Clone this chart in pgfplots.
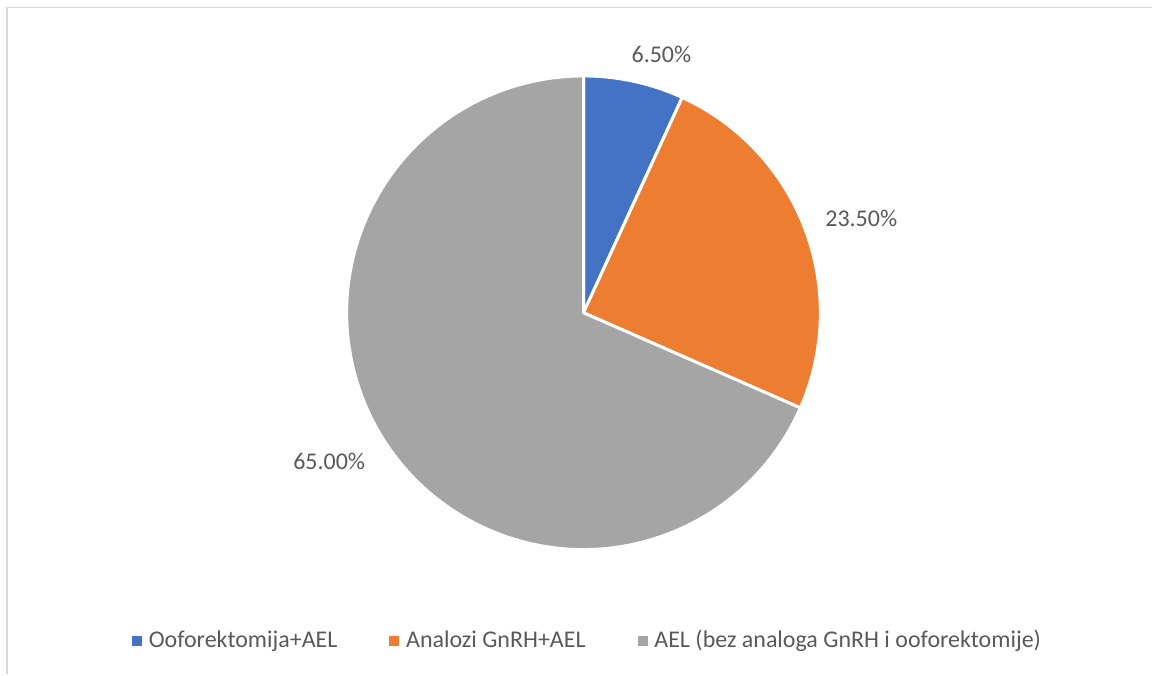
\documentclass[border=0pt]{standalone}
\usepackage{pgfplots}
\pgfplotsset{compat=1.18}
\usepackage{fontspec}
\setmainfont{Carlito}
\definecolor{c1}{HTML}{4472C4}
\definecolor{c2}{HTML}{ED7D31}
\definecolor{c3}{HTML}{A5A5A5}
\definecolor{txt}{HTML}{595959}
\definecolor{frame}{HTML}{D9D9D9}
% pie values (percent)
\def\va{6.5}
\def\vb{23.5}
\def\vc{65}
\begin{document}
\begin{tikzpicture}[font=\fontsize{12}{14}\selectfont]
\begin{axis}[
  width=576.5pt, height=337.5pt, scale only axis,
  xmin=0, xmax=1153, ymin=0, ymax=675, y dir=reverse,
  hide axis, clip=false,
  legend columns=3,
  legend style={at={(axis cs:589,641)}, anchor=center, draw=none, fill=none,
    font=\fontsize{12}{14}\selectfont\color{txt},
    /tikz/every even column/.append style={column sep=24pt},
    /tikz/every odd column/.append style={column sep=1.5pt},
    inner sep=0pt, row sep=0pt},
  legend cell align=left,
  legend image code/.code={\fill[#1] (0pt,-2.25pt) rectangle (4.5pt,2.25pt);},
]
\path (axis cs:0,0) rectangle (axis cs:1153,675);
\draw[frame, line width=1pt] (axis cs:7.5,675) -- (axis cs:7.5,7.5) -- (axis cs:1153,7.5);
\pgfmathsetmacro\tot{\va+\vb+\vc}
\pgfmathsetmacro\aa{90}
\pgfmathsetmacro\ab{90-360*\va/\tot}
\pgfmathsetmacro\ac{90-360*(\va+\vb)/\tot}
\pgfmathsetmacro\ad{-270}
\fill[c1, draw=white, line width=1.5pt, line join=round] (axis cs:584,313) -- ++(\aa:118.5pt) arc[start angle=\aa, end angle=\ab, radius=118.5pt] -- cycle;
\fill[c2, draw=white, line width=1.5pt, line join=round] (axis cs:584,313) -- ++(\ab:118.5pt) arc[start angle=\ab, end angle=\ac, radius=118.5pt] -- cycle;
\fill[c3, draw=white, line width=1.5pt, line join=round] (axis cs:584,313) -- ++(\ac:118.5pt) arc[start angle=\ac, end angle=\ad, radius=118.5pt] -- cycle;
\node[txt] at (axis cs:662,54) {6.50\%};
\node[txt] at (axis cs:862,219) {23.50\%};
\node[txt] at (axis cs:329.5,462) {65.00\%};
\addlegendimage{c1}
\addlegendentry{Ooforektomija+AEL}
\addlegendimage{c2}
\addlegendentry{Analozi GnRH+AEL}
\addlegendimage{c3}
\addlegendentry{AEL (bez analoga GnRH i ooforektomije)}
\end{axis}
\end{tikzpicture}
\end{document}
